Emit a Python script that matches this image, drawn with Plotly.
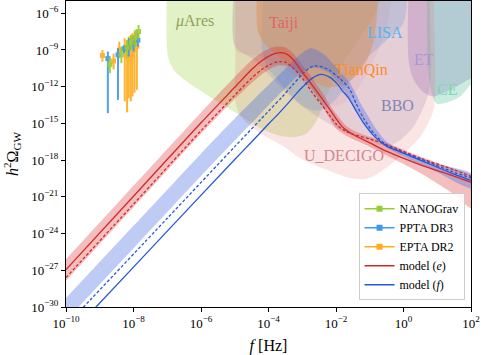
import plotly.graph_objects as go

# ---------------- data (log10 values) ----------------
# model (e): red
red_solid_logf = [-10, -8, -6, -5, -4.5, -4.2, -4.0, -3.8, -3.65, -3.5, -3.3, -3.0, -2.7, -2.46, -2.2, -1.97, -1.77, -1.48, -0.98, -0.49, 0.5, 1.49, 2]
red_solid_logO = [-26.95, -20.95, -14.95, -12.05, -10.6, -9.88, -9.52, -9.28, -9.21, -9.28, -9.7, -10.8, -11.9, -12.8, -13.8, -14.71, -15.39, -15.93, -16.61, -17.29, -18.38, -19.3, -19.8]
red_dash_logf = [-10, -8, -6, -5, -4.5, -4.2, -4.0, -3.8, -3.65, -3.5, -3.3, -2.96, -2.7, -2.46, -2.2, -1.97, -1.75, -1.58, -1.3, -0.98, -0.49, 0.5, 1.49, 2]
red_dash_logO = [-27.6, -21.6, -15.6, -12.7, -11.3, -10.6, -10.25, -10.02, -9.95, -10.0, -10.4, -11.44, -12.5, -13.35, -14.3, -15.12, -15.6, -15.8, -16.05, -16.29, -16.75, -17.84, -18.79, -19.33]
red_band_up_logf = [-10, -8, -6, -5, -4.5, -4.2, -3.9, -3.7, -3.5, -3.3, -3.0, -2.5, -2.0, -1.7, -1.4, -1.0, -0.5, 0.5, 1.5, 2]
red_band_up_logO = [-26.1, -20.1, -14.1, -11.2, -9.85, -9.2, -8.8, -8.72, -8.8, -9.2, -10.2, -12.1, -14.2, -15.2, -15.7, -16.1, -16.6, -17.7, -18.7, -19.2]
red_band_lo_logf = [-10, -8, -6, -5, -4.5, -4.2, -3.9, -3.65, -3.4, -3.1, -2.8, -2.5, -2.0, -1.7, -1.4, -1.0, -0.5, 0.5, 1.5, 2]
red_band_lo_logO = [-27.85, -21.85, -15.85, -13.0, -11.7, -11.0, -10.45, -10.25, -10.35, -10.9, -11.9, -13.1, -15.4, -16.0, -16.4, -16.9, -17.6, -19.06, -20.8, -21.9]

# model (f): blue
blue_solid_logf = [-10, -9.11, -7, -5, -4.44, -4.0, -3.7, -3.45, -3.2, -2.96, -2.7, -2.44, -2.2, -1.97, -1.82, -1.62, -1.4, -1.18, -0.85, -0.49, -0.2, 0.5, 1.5, 2]
blue_solid_logO = [-32.6, -30.0, -23.8, -17.95, -16.34, -15.05, -14.2, -13.45, -12.65, -11.95, -11.3, -11.0, -11.2, -11.75, -12.3, -12.95, -14.0, -14.98, -16.1, -16.88, -17.2, -18.0, -19.15, -19.65]
blue_dash_logf = [-10, -9.48, -7, -5, -4.0, -3.6, -3.3, -3.0, -2.8, -2.62, -2.4, -2.17, -1.9, -1.62, -1.4, -1.18, -0.85, -0.49, -0.2, 0.5, 1.5, 2]
blue_dash_logO = [-31.5, -30.0, -22.75, -16.9, -14.0, -12.85, -11.9, -11.0, -10.5, -10.3, -10.4, -10.7, -11.3, -12.1, -13.4, -14.6, -15.9, -16.8, -17.15, -17.9, -19.0, -19.45]
blue_band_up_logf = [-10, -8, -6, -5, -4.2, -3.6, -3.2, -2.9, -2.76, -2.6, -2.3, -2.0, -1.6, -1.2, -0.8, -0.5, 0, 1, 2]
blue_band_up_logO = [-29.27, -23.37, -17.47, -14.6, -12.4, -10.8, -9.7, -9.05, -8.86, -8.95, -9.5, -10.4, -11.65, -13.7, -15.5, -16.5, -17.3, -18.3, -19.1]
blue_band_lo_logf = [-10, -8, -6, -5, -4.2, -3.6, -3.2, -2.9, -2.7, -2.5, -2.2, -1.9, -1.6, -1.2, -0.8, -0.5, 0, 1, 2]
blue_band_lo_logO = [-31.1, -25.2, -19.3, -16.4, -14.1, -12.4, -11.3, -10.65, -10.45, -10.5, -10.9, -11.8, -13.0, -14.9, -16.2, -16.95, -17.7, -19.0, -20.3]

# PTA data: log f, centre, lower end, upper end
nano_logf = [-8.70, -8.36, -8.19, -8.07, -7.95, -7.85]
nano_c = [-10.2, -9.4, -8.8, -8.4, -8.0, -7.5]
nano_lo = [-10.9, -10.08, -9.54, -9.0, -8.73, -8.04]
nano_hi = [-9.6, -8.73, -8.18, -7.77, -7.36, -6.96]

ppta_logf = [-8.76, -8.46, -8.28, -8.14, -8.00, -7.87]
ppta_c = [-9.7, -9.4, -8.9, -8.8, -8.5, -8.2]
ppta_lo = [-14.16, -13.08, -9.27, -9.54, -9.13, -8.73]
ppta_hi = [-9.13, -8.86, -8.59, -8.04, -7.9, -7.63]

epta_logf = [-8.92, -8.59, -8.42, -8.26, -8.19, -8.14, -8.08, -8.03, -7.97, -7.90]
epta_c = [-9.45, -9.9, -9.0, -9.0, -9.5, -9.6, -9.8, -9.4, -9.0, -8.7]
epta_lo = [-9.95, -10.6, -9.67, -13.2, -14.1, -12.94, -13.2, -12.8, -12.5, -12.26]
epta_hi = [-9.0, -9.3, -8.32, -8.04, -8.18, -7.9, -7.77, -7.63, -7.5, -7.36]

# detector sensitivity regions (boundary in log10 f, log10 h^2 Omega)
det_names = ["μAres", "Taiji", "LISA", "TianQin", "BBO", "ET", "CE", "U_DECIGO"]
muares_logf = [-7.01, -6.98, -6.81, -6.41, -5.82, -5.03, -4.24, -3.65, -3.25, -2.86, -2.56, -2.32, -1.97, -1.48, -0.88, -0.59]
muares_logO = [-4.0, -9.54, -10.63, -11.6, -12.67, -14.03, -15.39, -16.01, -16.12, -15.8, -14.71, -13.07, -10.9, -8.72, -6.27, -4.0]
taiji_logf = [-4.98, -4.98, -4.24, -3.55, -2.96, -2.46, -2.07, -1.77, -1.38, -0.98, -0.59, -0.29]
taiji_logO = [-4.0, -9.0, -9.54, -10.49, -11.71, -12.94, -13.56, -13.35, -12.26, -10.35, -7.9, -4.0]
lisa_logf = [-4.14, -4.19, -4.04, -3.55, -2.96, -2.51, -2.07, -1.58, -1.08, -0.49, 0.0, 0.12]
lisa_logO = [-4.0, -9.0, -10.35, -11.99, -13.62, -13.97, -13.21, -11.58, -9.67, -8.18, -6.82, -4.0]
tianqin_logf = [-4.34, -4.32, -4.14, -3.75, -3.25, -2.76, -2.27, -1.77, -1.38, -1.08, -0.88, -0.79, -0.77]
tianqin_logO = [-4.0, -7.36, -8.45, -9.40, -10.49, -11.44, -12.04, -11.85, -11.03, -9.81, -8.18, -6.27, -4.0]
bbo_logf = [-5.03, -4.98, -4.44, -3.85, -3.25, -2.56, -1.87, -1.08, -0.49, -0.09, 0.30, 0.60, 0.79, 0.75]
bbo_logO = [-4.0, -8.72, -9.81, -11.44, -13.07, -14.44, -15.52, -16.34, -16.88, -16.34, -15.25, -13.62, -11.99, -4.0]
et_logf = [0.15, 0.15, 0.30, 0.60, 0.89, 1.39, 2.0, 2.47, 2.47]
et_logO = [-4.0, -9.81, -11.44, -12.48, -12.80, -12.26, -11.31, -10.76, -4.0]
ce_logf = [0.70, 0.72, 0.84, 0.99, 1.29, 1.68, 2.0, 2.47, 2.47]
ce_logO = [-4.0, -10.35, -12.53, -13.40, -13.29, -12.80, -11.85, -11.17, -4.0]
udecigo_logf = [-4.98, -4.98, -4.95, -4.74, -4.24, -3.55, -3.06, -2.27, -1.58, -1.08, -0.59, -0.09, 0.50, 0.89, 0.94, 0.89]
udecigo_logO = [-4.0, -9.0, -13.62, -14.71, -15.80, -16.88, -17.84, -18.79, -19.47, -19.52, -18.79, -17.70, -16.07, -13.89, -11.71, -4.0]

# label positions (log10 f, log10 h^2 Omega)
lab_logf = [-6.18, -3.55, -0.54, -1.23, -0.17, 0.60, 1.29, -1.77]
lab_logO = [-6.60, -6.76, -7.55, -10.63, -13.56, -9.81, -12.26, -17.65]

# ---------------- styles ----------------
det_fill = ["rgba(154,205,50,0.28)", "rgba(214,39,40,0.08)", "rgba(80,180,240,0.30)",
            "rgba(240,160,60,0.50)", "rgba(130,120,175,0.20)", "rgba(150,110,200,0.30)",
            "rgba(80,190,150,0.30)", "rgba(230,120,120,0.20)"]
det_text = ["#8fa35c", "#e06666", "#55b5ee", "#ff8c1a", "#7f86b5", "#a896d6", "#80d6b5", "#d08890"]
det_label = ["<i>μ</i>Ares", "Taiji", "LISA", "TianQin", "BBO", "ET", "CE", "U_DECIGO"]

RED = "#d62728"
BLUE = "#2456d8"
C_NANO = "#9acd32"
C_PPTA = "#3a9bf0"
C_EPTA = "#ffab1a"
FONT = "Liberation Serif"


def p10(v):
    return [10.0 ** a for a in v]


fig = go.Figure()

det_data = [(muares_logf, muares_logO), (taiji_logf, taiji_logO), (lisa_logf, lisa_logO),
            (tianqin_logf, tianqin_logO), (bbo_logf, bbo_logO), (et_logf, et_logO),
            (ce_logf, ce_logO), (udecigo_logf, udecigo_logO)]
for name, (lf, lo), col in zip(det_names, det_data, det_fill):
    fig.add_trace(go.Scatter(x=p10(lf), y=p10(lo), mode="lines", fill="toself",
                             fillcolor=col, line=dict(width=0, shape="spline", smoothing=0.8),
                             showlegend=False, hoverinfo="skip", name=name))


def band(uf, uo, lf, lo, col):
    xs = p10(uf) + p10(lf[::-1])
    ys = p10(uo) + p10(lo[::-1])
    fig.add_trace(go.Scatter(x=xs, y=ys, mode="lines", fill="toself", fillcolor=col,
                             line=dict(width=0, shape="spline", smoothing=0.6),
                             showlegend=False, hoverinfo="skip"))


band(red_band_up_logf, red_band_up_logO, red_band_lo_logf, red_band_lo_logO, "rgba(214,39,40,0.30)")
band(blue_band_up_logf, blue_band_up_logO, blue_band_lo_logf, blue_band_lo_logO, "rgba(65,105,225,0.35)")

fig.add_trace(go.Scatter(x=p10(red_dash_logf), y=p10(red_dash_logO), mode="lines",
                         line=dict(color=RED, width=1.3, dash="3px,2px", shape="spline", smoothing=0.8),
                         showlegend=False))
fig.add_trace(go.Scatter(x=p10(blue_dash_logf), y=p10(blue_dash_logO), mode="lines",
                         line=dict(color=BLUE, width=1.3, dash="3px,2px", shape="spline", smoothing=0.8),
                         showlegend=False))


def pta(lf, c, lo, hi, col, name, rank):
    y = p10(c)
    up = [10.0 ** h - 10.0 ** a for h, a in zip(hi, c)]
    dn = [10.0 ** a - 10.0 ** l for l, a in zip(lo, c)]
    fig.add_trace(go.Scatter(x=p10(lf), y=y, mode="markers",
                             marker=dict(symbol="square", size=5, color=col),
                             error_y=dict(type="data", symmetric=False, array=up, arrayminus=dn,
                                          thickness=2, width=0, color=col),
                             opacity=0.9, showlegend=False, name=name))
    fig.add_trace(go.Scatter(x=[None], y=[None], mode="lines+markers", name=name, legendrank=rank,
                             marker=dict(symbol="square", size=6, color=col),
                             line=dict(color=col, width=1.5)))


pta(epta_logf, epta_c, epta_lo, epta_hi, C_EPTA, "EPTA DR2", 3)
pta(ppta_logf, ppta_c, ppta_lo, ppta_hi, C_PPTA, "PPTA DR3", 2)
pta(nano_logf, nano_c, nano_lo, nano_hi, C_NANO, "NANOGrav", 1)

fig.add_trace(go.Scatter(x=p10(red_solid_logf), y=p10(red_solid_logO), mode="lines", name="model (<i>e</i>)",
                         legendrank=4, line=dict(color=RED, width=1.3, shape="spline", smoothing=0.8)))
fig.add_trace(go.Scatter(x=p10(blue_solid_logf), y=p10(blue_solid_logO), mode="lines", name="model (<i>f</i>)",
                         legendrank=5, line=dict(color=BLUE, width=1.3, shape="spline", smoothing=0.8)))

for txt, lf, lo, col in zip(det_label, lab_logf, lab_logO, det_text):
    fig.add_annotation(x=lf, y=lo, xref="x", yref="y", text=txt, showarrow=False,
                       font=dict(family=FONT, size=16, color=col))

xt = [-10, -8, -6, -4, -2, 0, 2]
yt = [-30, -27, -24, -21, -18, -15, -12, -9, -6]

fig.update_xaxes(type="log", range=[-10, 2], tickvals=p10(xt), automargin=False,
                 ticktext=["10<sup>−%d</sup>" % (-v) if v < 0 else "10<sup>%d</sup>" % v for v in xt],
                 ticks="outside", ticklen=4, tickcolor="black", showline=True, linecolor="black",
                 linewidth=1, mirror=True, showgrid=False, zeroline=False,
                 tickfont=dict(family=FONT, size=13, color="black"),
                 title=dict(text="<i>f</i> [Hz]", font=dict(family=FONT, size=16, color="black"), standoff=12))
fig.update_yaxes(type="log", range=[-30, -5], tickvals=p10(yt), automargin=False,
                 ticktext=["10<sup>−%d</sup>" % (-v) for v in yt],
                 ticks="outside", ticklen=4, tickcolor="black", showline=True, linecolor="black",
                 linewidth=1, mirror=True, showgrid=False, zeroline=False,
                 tickfont=dict(family=FONT, size=13, color="black"),
                 title=dict(text="<i>h</i><sup>2</sup>Ω<sub>GW</sub>", font=dict(family=FONT, size=16, color="black"), standoff=8))

fig.update_layout(width=481, height=355, margin=dict(l=66, r=10, t=1, b=48, autoexpand=False),
                  paper_bgcolor="white", plot_bgcolor="white",
                  legend=dict(x=0.984, y=0.022, xanchor="right", yanchor="bottom",
                              bgcolor="rgba(255,255,255,0.9)", bordercolor="#cccccc", borderwidth=1,
                              font=dict(family=FONT, size=12, color="black"),
                              traceorder="normal", tracegroupgap=0, itemwidth=30),
                  showlegend=True)

fig.write_html("out.html", config={"displayModeBar": False},
               post_script="document.body.style.margin='0';document.body.style.overflow='hidden';")
